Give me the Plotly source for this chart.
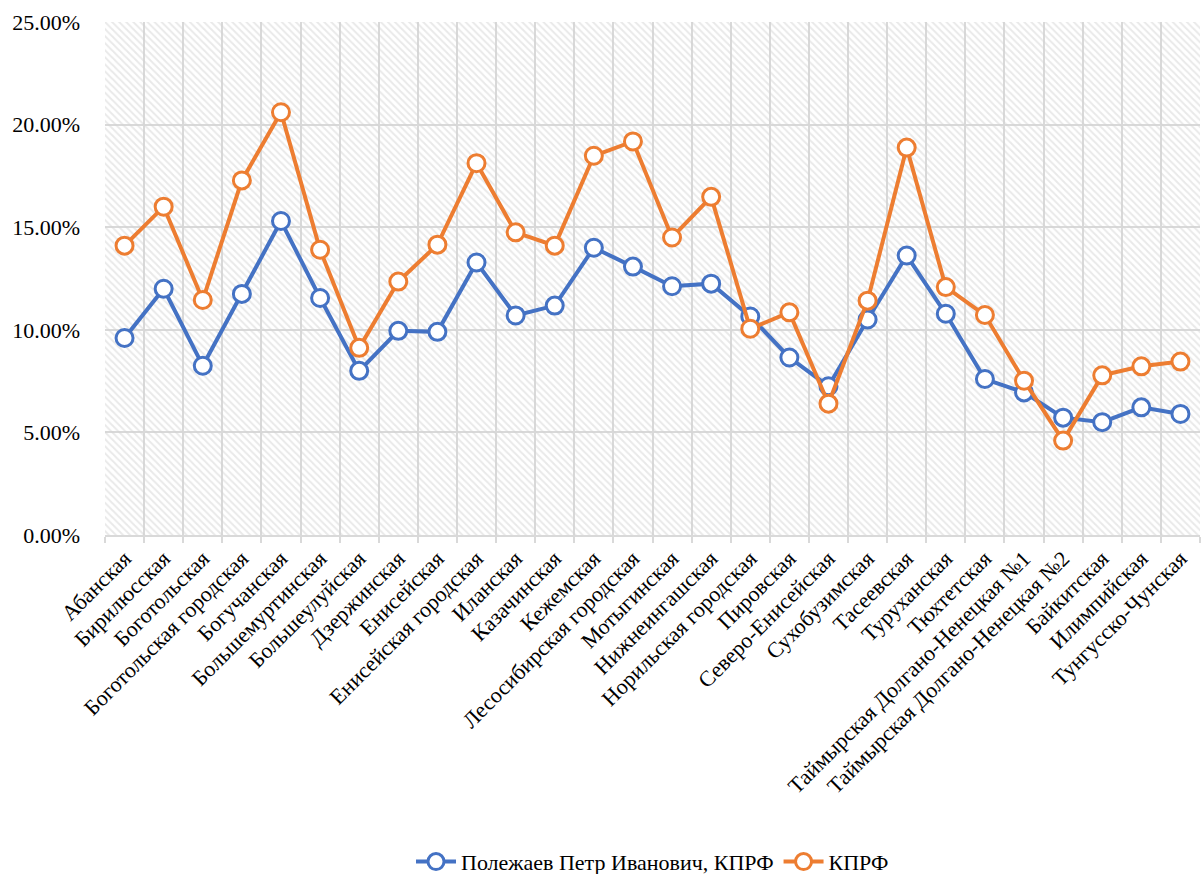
import plotly.graph_objects as go

categories = [
    "Абанская", "Бирилюсская", "Боготольская", "Боготольская городская",
    "Богучанская", "Большемуртинская", "Большеулуйская", "Дзержинская",
    "Енисейская", "Енисейская городская", "Иланская", "Казачинская",
    "Кежемская", "Лесосибирская городская", "Мотыгинская", "Нижнеингашская",
    "Норильская городская", "Пировская", "Северо-Енисейская", "Сухобузимская",
    "Тасеевская", "Туруханская", "Тюхтетская",
    "Таймырская Долгано-Ненецкая №1", "Таймырская Долгано-Ненецкая №2",
    "Байкитская", "Илимпийская", "Тунгусско-Чунская",
]

polezhaev = [
    9.60, 12.00, 8.25, 11.75, 15.30, 11.55, 8.00, 9.95, 9.90, 13.28,
    10.70, 11.18, 14.00, 13.08, 12.12, 12.25, 10.65, 8.65, 7.25, 10.50,
    13.62, 10.78, 7.60, 6.95, 5.72, 5.50, 6.22, 5.90,
]

kprf = [
    14.10, 16.00, 11.45, 17.28, 20.60, 13.90, 9.12, 12.35, 14.15, 18.12,
    14.75, 14.10, 18.48, 19.18, 14.50, 16.48, 10.05, 10.85, 6.40, 11.42,
    18.88, 12.08, 10.72, 7.52, 4.60, 7.78, 8.22, 8.45,
]

y_ticks = [0, 0.05, 0.10, 0.15, 0.20, 0.25]
Y_MAX = 0.25

FONT = "Liberation Serif"
GRID = "#d9d9d9"
BLUE = "#4472C4"
ORANGE = "#ED7D31"

fig = go.Figure()

# hatched plot-area background
fig.add_trace(go.Bar(
    x=categories, y=[Y_MAX] * len(categories), width=1,
    marker=dict(color="rgba(0,0,0,0)", line=dict(width=0),
                pattern=dict(shape="\\", size=5, solidity=0.4,
                             fgcolor="#d4d4d4")),
    hoverinfo="skip", showlegend=False,
))

for name, vals, col in [("Полежаев Петр Иванович, КПРФ", polezhaev, BLUE),
                        ("КПРФ", kprf, ORANGE)]:
    fig.add_trace(go.Scatter(
        x=categories, y=[v / 100 for v in vals], name=name,
        mode="lines+markers",
        line=dict(color=col, width=4),
        marker=dict(symbol="circle", size=17, color="white",
                    line=dict(color=col, width=3)),
    ))

fig.update_layout(
    width=1203, height=874,
    margin=dict(l=105, r=3, t=22, b=339, autoexpand=False),
    paper_bgcolor="white", plot_bgcolor="white",
    font=dict(family=FONT, size=22, color="black"),
    showlegend=True,
    legend=dict(orientation="h", x=0.5, xanchor="center",
                y=-0.637, yanchor="middle",
                font=dict(family=FONT, size=22, color="black"),
                itemwidth=40, traceorder="normal"),
    bargap=0,
)

fig.update_xaxes(
    type="category", tickangle=-45, tickson="boundaries",
    showgrid=True, gridcolor=GRID, gridwidth=2,
    ticks="outside", ticklen=6, tickcolor=GRID, tickwidth=2,
    showline=True, linecolor=GRID, linewidth=2,
    tickfont=dict(family=FONT, size=22, color="black"),
    range=[-0.5, len(categories) - 0.5], automargin=False,
)

fig.update_yaxes(
    range=[0, Y_MAX], tickvals=y_ticks, tickformat=".2%",
    showgrid=True, gridcolor=GRID, gridwidth=2, zeroline=False,
    showline=False, ticks="", ticklabelstandoff=24,
    tickfont=dict(family=FONT, size=22, color="black"),
    automargin=False,
)

fig.write_html("out.html", config={"displayModeBar": False},
               post_script="document.body.style.margin='0px';")
